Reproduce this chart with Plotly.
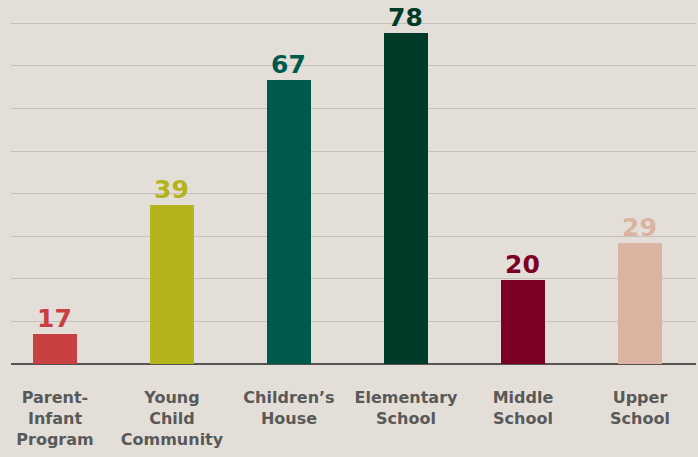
import plotly.graph_objects as go

categories = ["Parent-<br>Infant<br>Program", "Young<br>Child<br>Community", "Children’s<br>House",
              "Elementary<br>School", "Middle<br>School", "Upper<br>School"]
value_labels = ["17", "39", "67", "78", "20", "29"]
bar_heights = [7.0, 37.3, 66.7, 77.8, 19.8, 28.5]
colors = ["#c8403f", "#b3b31b", "#00594d", "#003a28", "#7c0026", "#dbb3a1"]

x = list(range(len(categories)))

FONT = "DejaVu Sans"

fig = go.Figure()
fig.add_trace(go.Bar(
    x=x, y=bar_heights, width=0.376,
    marker=dict(color=colors, line=dict(width=0)),
    hoverinfo="skip",
))

for xi, h, t, c in zip(x, bar_heights, value_labels, colors):
    fig.add_annotation(x=xi, y=h, text=t, showarrow=False, yanchor="bottom",
                       yshift=-1, font=dict(family=FONT, size=25, color=c, weight="bold"))

fig.update_layout(
    width=698, height=457,
    margin=dict(l=11, r=2, t=22, b=93),
    paper_bgcolor="#e3dfd8",
    plot_bgcolor="#e3dfd8",
    showlegend=False,
    bargap=0,
    xaxis=dict(
        range=[-0.376, 5.479],
        tickvals=x, ticktext=categories,
        tickfont=dict(family=FONT, size=16, color="#595959", weight="bold"),
        showgrid=False, zeroline=False,
        showline=False, ticks="", ticklabelstandoff=22,
    ),
    yaxis=dict(
        range=[0, 80.3], tickvals=[10, 20, 30, 40, 50, 60, 70, 80], showticklabels=False,
        gridcolor="#c6c0b9", gridwidth=1.3,
        zeroline=True, zerolinecolor="#555555", zerolinewidth=1.5,
        showline=False,
    ),
)

fig.write_html("out.html", config={"displayModeBar": False},
               post_script="document.body.style.margin='0';document.body.style.overflow='hidden';")
